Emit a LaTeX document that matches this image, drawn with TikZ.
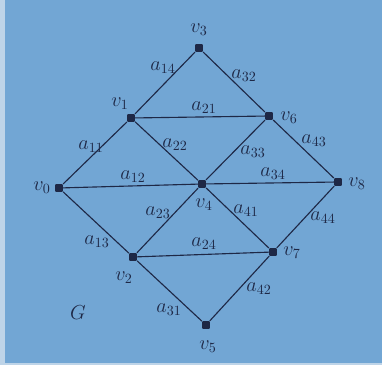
\documentclass[tikz,border=0pt]{standalone}
\usetikzlibrary{positioning}
\definecolor{page}{RGB}{114,166,212}
\definecolor{ink}{RGB}{30,40,70}
\definecolor{margin}{RGB}{190,212,232}

\begin{document}
\begin{tikzpicture}[x=0.025cm,y=-0.025cm,font=\Large,text=ink]
  \tikzstyle{vtx}=[fill=ink,inner sep=0pt,minimum size=5.5pt,rounded corners=0.6pt]
  \tikzstyle{edge}=[draw=ink,line width=0.8pt]
  % page
  \fill[margin] (0,0) rectangle (382,365);
  \fill[page] (5,0) rectangle (382,363);
  \useasboundingbox (0,0) rectangle (382,365);
  % vertices
  \node[vtx] (v3) at (199,48) {};
  \node[vtx] (v1) at (131,118) {};
  \node[vtx] (v6) at (269,116) {};
  \node[vtx] (v0) at (59,188) {};
  \node[vtx] (v4) at (202,184) {};
  \node[vtx] (v8) at (338,182) {};
  \node[vtx] (v2) at (133,257) {};
  \node[vtx] (v7) at (273,252) {};
  \node[vtx] (v5) at (206,325) {};
  % vertex names
  \node (n3) at (199,30) {$v_3$};
  \node (n1) at (120,104) {$v_1$};
  \node (n6) at (289,118) {$v_6$};
  \node (n0) at (42,188) {$v_0$};
  \node (n4) at (204,205) {$v_4$};
  \node (n8) at (357,184) {$v_8$};
  \node (n2) at (124,278) {$v_2$};
  \node (n7) at (292,253) {$v_7$};
  \node (n5) at (208,347) {$v_5$};
  \node (g) at (78,313) {$G$};
  % edges
  \draw[edge] (v0) -- (v1) -- (v3) -- (v6) -- (v8) -- (v7) -- (v5) -- (v2) -- (v0);
  \draw[edge] (v1) -- (v6);
  \draw[edge] (v0) -- (v4) -- (v8);
  \draw[edge] (v2) -- (v7);
  \draw[edge] (v1) -- (v4) -- (v7);
  \draw[edge] (v2) -- (v4) -- (v6);
  % edge labels
  \node (a14) at (163,68) {$a_{14}$};
  \node (a32) at (244,76) {$a_{32}$};
  \node (a21) at (204,108) {$a_{21}$};
  \node (a11) at (91,147) {$a_{11}$};
  \node (a22) at (175,145) {$a_{22}$};
  \node (a33) at (253,152) {$a_{33}$};
  \node (a43) at (314,141) {$a_{43}$};
  \node (a12) at (133,177) {$a_{12}$};
  \node (a34) at (273,174) {$a_{34}$};
  \node (a23) at (158,213) {$a_{23}$};
  \node (a41) at (246,211) {$a_{41}$};
  \node (a44) at (323,218) {$a_{44}$};
  \node (a13) at (97,242) {$a_{13}$};
  \node (a24) at (204,244) {$a_{24}$};
  \node (a42) at (259,289) {$a_{42}$};
  \node (a31) at (169,310) {$a_{31}$};
\end{tikzpicture}
\end{document}
